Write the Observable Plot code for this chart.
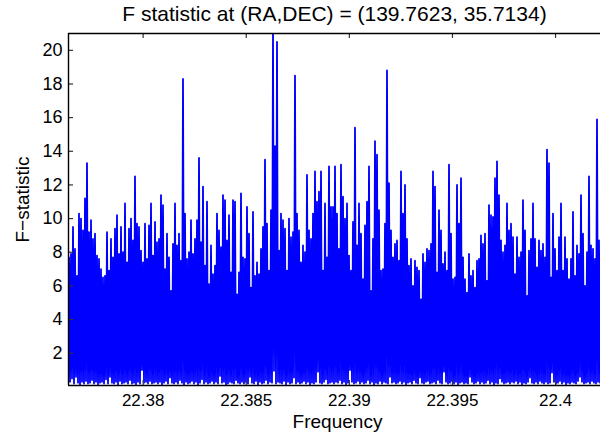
<!DOCTYPE html>
<html><head><meta charset="utf-8">
<script src="https://cdn.jsdelivr.net/npm/d3@7"></script>
<script src="https://cdn.jsdelivr.net/npm/@observablehq/plot@0.6"></script>
<style>
body{margin:0;background:#fff;}
#chart svg{font-family:"Liberation Sans",Arial,Helvetica,sans-serif;}
</style>
</head><body><div id="chart"></div>
<script>
const titleText = "F statistic at (RA,DEC) = (139.7623, 35.7134)";
const xLabelText = "Frequency";
const yLabelText = "F\u2212statistic";
const freqStart = 22.37638, freqEnd = 22.40218;
const yMin = 0.08, yMax = 21.0;
const xTickValues = [22.38, 22.385, 22.39, 22.395, 22.4];
const xTickLabels = ["22.38", "22.385", "22.39", "22.395", "22.4"];
const yTickValues = [2, 4, 6, 8, 10, 12, 14, 16, 18, 20];

// column maxima of the F-statistic trace, read left to right
const peaks = [
 7.7,7.9,9.5,8.2,6.6,10.3,10.0,9.3,11.2,13.3,9.2,9.9,8.8,9.1,7.8,7.6,7.0,6.5,6.6,9.2,6.9,8.8,7.7,9.4,10.2,7.9,9.5,8.0,10.9,7.4,9.4,10.0,8.7,12.5,9.7,9.5,8.1,7.4,9.7,7.6,9.6,10.9,7.8,9.8,
 8.6,8.8,11.4,10.8,7.0,9.1,7.7,5.7,8.5,10.9,8.4,9.1,7.5,18.3,10.3,7.6,8.0,9.9,7.9,8.8,9.9,13.6,8.6,11.9,7.2,11.0,6.1,8.4,6.7,7.2,10.3,9.3,8.3,11.4,11.1,8.7,10.2,6.8,11.1,11.0,5.5,6.8,11.5,7.7,
 7.6,10.7,9.1,5.9,10.4,6.6,7.4,6.7,8.2,9.5,13.5,9.7,6.9,10.5,21.0,14.3,20.5,8.1,10.3,9.9,9.4,6.9,10.0,8.9,9.2,18.5,10.3,9.3,7.4,8.4,8.0,12.6,9.3,8.8,10.3,12.8,11.0,11.6,12.8,6.9,10.9,7.7,13.1,10.7,
 10.7,13.1,10.3,8.2,13.2,11.3,10.0,10.9,7.8,6.9,9.8,15.4,8.4,10.9,9.1,6.4,9.6,11.0,13.1,5.7,8.8,14.6,13.8,10.5,6.9,7.0,9.7,18.8,12.1,9.3,7.7,8.5,8.7,7.5,12.8,10.3,12.0,8.8,7.2,7.6,6.0,7.5,7.1,6.9,
 5.2,7.9,7.4,8.2,8.1,8.5,12.8,11.9,6.8,10.5,9.3,7.3,8.0,6.9,13.2,9.1,6.4,6.5,12.0,9.7,12.4,7.7,6.4,5.6,7.9,6.6,6.9,5.9,7.5,7.6,9.0,8.5,9.1,6.3,10.8,10.2,10.1,12.4,13.4,11.4,8.7,8.0,8.4,10.9,
 9.3,9.7,8.9,6.7,8.9,7.7,8.0,11.1,9.3,5.4,8.1,8.8,10.9,8.8,7.1,8.7,8.1,8.5,7.7,14.1,13.3,6.5,10.3,8.2,6.9,8.9,10.9,6.9,8.9,7.6,6.4,7.6,10.4,6.6,8.4,7.9,11.4,9.1,6.0,8.0,12.5,8.4,8.2,7.6,15.9,8.7
];
// column minima of the trace, read left to right
const troughs = [
 0.3,0.5,0.2,0.6,0.25,0.15,0.3,0.2,0.35,0.2,0.25,0.4,0.2,0.3,0.15,0.25,0.3,0.2,0.45,0.2,0.6,0.25,0.2,0.3,0.15,0.35,0.2,0.25,0.3,0.2,0.4,0.2,0.25,0.15,0.3,0.2,1.0,0.25,0.3,0.2,0.35,0.2,0.25,0.3,
 0.2,0.3,0.15,0.25,0.35,0.2,0.55,0.25,0.2,0.3,0.2,0.4,0.25,0.15,0.3,0.2,0.25,0.35,0.2,0.3,0.15,0.25,0.45,0.2,0.3,0.2,0.25,0.35,0.2,0.3,0.2,0.65,0.25,0.3,0.15,0.2,0.3,0.25,0.2,0.4,0.25,0.2,0.3,0.2,
 0.3,0.2,0.6,0.25,0.2,0.35,0.15,0.3,0.2,0.25,0.4,0.2,0.3,0.25,0.95,0.2,0.3,0.25,0.2,0.35,0.15,0.3,0.2,0.25,0.55,0.2,0.3,0.2,0.25,0.35,0.2,0.3,0.15,0.25,0.2,0.3,0.9,0.25,0.2,0.3,0.45,0.2,0.25,0.3,
 0.2,0.3,0.25,0.4,0.2,0.3,0.15,0.25,1.0,0.3,0.2,0.25,0.35,0.2,0.3,0.2,0.25,0.4,0.2,0.3,0.15,0.25,0.2,0.35,0.2,0.3,0.25,0.2,0.6,0.25,0.3,0.2,0.25,0.35,0.2,0.3,0.15,0.25,0.3,0.2,0.4,0.25,0.2,0.55,
 0.25,0.2,0.3,0.35,0.2,0.25,0.3,0.2,0.4,0.25,0.2,0.9,0.3,0.2,0.25,0.35,0.2,0.3,0.15,0.25,0.3,0.2,0.25,0.2,0.6,0.3,0.2,0.25,0.35,0.2,0.3,0.2,0.25,0.4,0.2,0.3,0.15,0.25,0.2,0.5,0.3,0.2,0.25,0.3,
 0.2,0.3,0.25,0.35,0.2,0.3,0.15,0.25,0.2,0.3,0.55,0.25,0.2,0.3,0.2,0.35,0.25,0.2,0.3,0.2,0.25,0.85,0.3,0.2,0.25,0.35,0.2,0.3,0.15,0.25,0.2,0.3,0.25,0.2,0.35,0.6,0.3,0.2,0.25,0.3,0.2,0.35,0.25,0.2,0.3,0.25
];

const n = peaks.length;
const step = (freqEnd - freqStart) / n;
const trace = [];
peaks.forEach((p, i) => {
  trace.push({f: freqStart + (i + 0.25) * step, F: p});
  trace.push({f: freqStart + (i + 0.75) * step, F: troughs[i]});
});

const font = "Liberation Sans, Arial, Helvetica, sans-serif";
const chart = Plot.plot({
  width: 600, height: 436,
  marginTop: 33, marginLeft: 68, marginRight: 0, marginBottom: 51,
  style: {fontFamily: font, background: "#fff", color: "#000"},
  x: {domain: [freqStart, freqEnd]},
  y: {domain: [yMin, yMax]},
  marks: [
    Plot.line(trace, {x: "f", y: "F", stroke: "#0000ff", strokeWidth: 1.8, clip: true}),
    Plot.tickX(xTickValues, {x: d => d, insetTop: 347, stroke: "#333", strokeWidth: 1.2}),
    Plot.tickX(xTickValues, {x: d => d, insetBottom: 347, stroke: "#333", strokeWidth: 1.2}),
    Plot.tickY(yTickValues, {y: d => d, insetRight: 527, stroke: "#333", strokeWidth: 1.2}),
    Plot.ruleX([freqStart], {stroke: "#000", strokeWidth: 1.4}),
    Plot.ruleY([yMin, yMax], {stroke: "#000", strokeWidth: 1.4}),
    Plot.axisX({ticks: xTickValues, tickFormat: (d, i) => xTickLabels[i], tickSize: 0, tickPadding: 8, fontSize: 17, label: null}),
    Plot.axisY({ticks: yTickValues, tickFormat: d => String(d), tickSize: 0, tickPadding: 6, fontSize: 18, label: null}),
    Plot.text([titleText], {text: d => d, frameAnchor: "top", textAnchor: "middle", lineAnchor: "middle", dy: -19, fontSize: 21}),
    Plot.text([xLabelText], {text: d => d, frameAnchor: "bottom", textAnchor: "middle", lineAnchor: "middle", dy: 36, dx: 3, fontSize: 19}),
    Plot.text([yLabelText], {text: d => d, frameAnchor: "left", textAnchor: "middle", lineAnchor: "middle", rotate: -90, dx: -46, dy: -10, fontSize: 19})
  ]
});
document.getElementById("chart").appendChild(chart);
</script>
</body></html>
